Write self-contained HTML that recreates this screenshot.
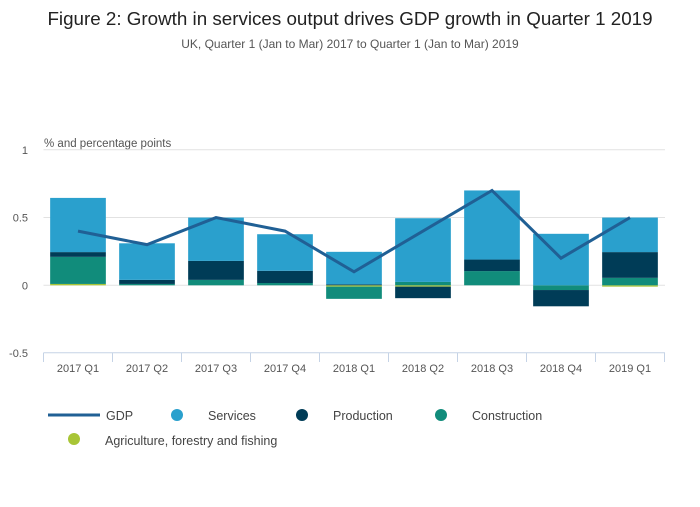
<!DOCTYPE html>
<html><head><meta charset="utf-8"><style>
body{margin:0;background:#fff;font-family:"Liberation Sans",sans-serif;}
svg text{font-family:"Liberation Sans",sans-serif;}
</style></head><body>
<svg width="700" height="502" viewBox="0 0 700 502">
<text x="350" y="25" text-anchor="middle" font-size="18.8" fill="#222">Figure 2: Growth in services output drives GDP growth in Quarter 1 2019</text>
<text x="350" y="48" text-anchor="middle" font-size="12" fill="#555">UK, Quarter 1 (Jan to Mar) 2017 to Quarter 1 (Jan to Mar) 2019</text>
<text x="44" y="147" font-size="11.5" fill="#555">% and percentage points</text>
<g id="grid"></g><g id="bars"></g><g id="line"></g><g id="xaxis"></g>
<g font-size="12.5" fill="#444">
<line x1="48" y1="415" x2="100" y2="415" stroke="#206095" stroke-width="3"/>
<text x="106" y="420">GDP</text>
<circle cx="177" cy="415" r="6" fill="#2aa0cd"/>
<text x="208" y="420">Services</text>
<circle cx="302" cy="415" r="6" fill="#003c57"/>
<text x="333" y="420">Production</text>
<circle cx="441" cy="415" r="6" fill="#118c7b"/>
<text x="472" y="420">Construction</text>
<circle cx="74" cy="439" r="6" fill="#a8c536"/>
<text x="105" y="445">Agriculture, forestry and fishing</text>
</g>
</svg>
<script>
const categories=["2017 Q1","2017 Q2","2017 Q3","2017 Q4","2018 Q1","2018 Q2","2018 Q3","2018 Q4","2019 Q1"];
const agriculture=[0.01,0,0,0,-0.01,-0.01,0,0,-0.01];
const construction=[0.2,0.01,0.04,0.017,-0.09,0.025,0.105,-0.035,0.055];
const production=[0.035,0.03,0.14,0.09,0.007,-0.085,0.085,-0.12,0.19];
const services=[0.4,0.27,0.32,0.27,0.24,0.47,0.51,0.38,0.255];
const gdp=[0.4,0.3,0.5,0.4,0.1,0.4,0.7,0.2,0.5];
const yTicks=[1,0.5,0,-0.5];
const NS="http://www.w3.org/2000/svg";
const x0=43.5,step=69,bw=55.7;
const yS=v=>285.3-v*135.5;
const xC=i=>x0+step*(i+0.5);
function mk(t,a,p){const e=document.createElementNS(NS,t);for(const k in a)e.setAttribute(k,a[k]);p.appendChild(e);return e;}
const g=document.getElementById('grid');
yTicks.forEach(t=>{
 if(t>-0.5){const l=mk('line',{x1:x0,x2:665,y1:yS(t),y2:yS(t),stroke:'#e2e2e2','stroke-width':1},g);
 
 }
 const tx=mk('text',{x:28,y:yS(t)+4,'text-anchor':'end','font-size':11,fill:'#555'},g);tx.textContent=t;
 
 
});
const b=document.getElementById('bars');
const series=[[agriculture,'#a8c536','agriculture'],[construction,'#118c7b','construction'],[production,'#003c57','production'],[services,'#2aa0cd','services']];
categories.forEach((c,i)=>{
 let pos=0,neg=0;
 series.forEach(([arr,col,nm])=>{
  const v=arr[i];if(!v)return;
  let a,bb;
  if(v>0){a=pos;bb=pos+v;pos=bb;}else{a=neg;bb=neg+v;neg=bb;}
  const r=mk('rect',{x:xC(i)-bw/2,width:bw,y:Math.min(yS(a),yS(bb)),height:Math.abs(yS(a)-yS(bb)),fill:col},b);
  
  
 });
});
const ln=document.getElementById('line');
const p=mk('polyline',{points:gdp.map((v,i)=>xC(i)+','+yS(v)).join(' '),fill:'none',stroke:'#206095','stroke-width':3},ln);


const xa=document.getElementById('xaxis');
const al=mk('line',{x1:x0,x2:665,y1:352.7,y2:352.7,stroke:'#c5d3e6','stroke-width':1},xa);


for(let i=0;i<=categories.length;i++){mk('line',{x1:x0+step*i,x2:x0+step*i,y1:352.7,y2:362,stroke:'#c5d3e6'},xa);}
categories.forEach((c,i)=>{
 const t=mk('text',{x:xC(i),y:372,'text-anchor':'middle','font-size':11,fill:'#555'},xa);t.textContent=c;
 
 
});
</script>
</body></html>
